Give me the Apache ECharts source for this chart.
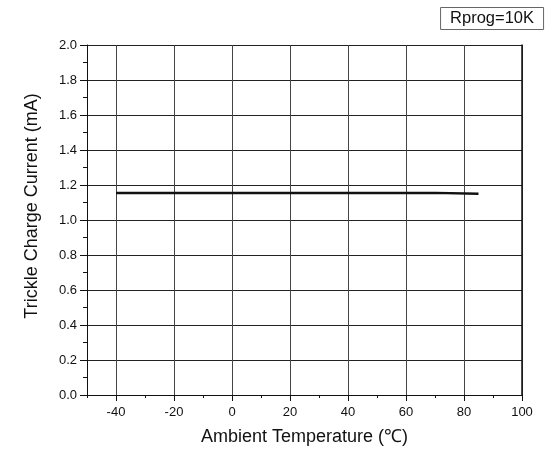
<!DOCTYPE html>
<html>
<head>
<meta charset="utf-8">
<script src="https://cdn.jsdelivr.net/npm/echarts@6/dist/echarts.min.js"></script>
<style>
html,body{margin:0;padding:0;background:#fff;}
#c{width:546px;height:452px;}
</style>
</head>
<body>
<div id="c"></div>
<script>
// Data
var temperatures = [-40, -20, 0, 20, 40, 60, 70, 85];
var trickleCurrent = [1.155, 1.155, 1.155, 1.155, 1.155, 1.155, 1.155, 1.150];
var legendText = 'Rprog=10K';
var xTitle = 'Ambient Temperature (\u2103)';
var yTitle = 'Trickle Charge Current (mA)';
var xMin = -50, xMax = 100, xMajorStart = -40, xMajorStep = 20, xMinorStep = 10;
var yMin = 0, yMax = 2.0, yStep = 0.2;

var FONT = 'Liberation Sans, Arial, sans-serif';
var seriesData = temperatures.map(function (t, i) { return [t, trickleCurrent[i]]; });

// geometry of the plotting box
var G = { left: 87, right: 24, top: 45, bottom: 57 };
var plotW = 546 - G.left - G.right;
var pxPerUnit = plotW / (xMax - xMin);
var leftMajor = G.left + (xMajorStart - xMin) * pxPerUnit;

var chart = echarts.init(document.getElementById('c'));
chart.setOption({
  backgroundColor: '#fff',
  animation: false,
  title: {
    text: legendText,
    right: 2,
    top: 7,
    padding: [3, 10, 3, 10],
    borderColor: '#666',
    borderWidth: 1,
    textStyle: { fontFamily: FONT, fontSize: 16.5, fontWeight: 'normal', color: '#111' }
  },
  grid: [
    { left: G.left, right: G.right, top: G.top, bottom: G.bottom, show: false },
    { left: leftMajor, right: G.right, top: G.top, bottom: G.bottom, show: false }
  ],
  xAxis: [{
    gridIndex: 0,
    type: 'value',
    position: 'bottom',
    min: xMin, max: xMax, interval: xMinorStep,
    name: xTitle,
    nameLocation: 'middle',
    nameGap: 33,
    nameTextStyle: { fontFamily: FONT, fontSize: 18, color: '#111' },
    axisLine: { show: true, onZero: false, lineStyle: { color: '#111', width: 1 } },
    axisTick: { show: true, inside: false, length: 3, lineStyle: { color: '#111' } },
    axisLabel: { show: false },
    splitLine: { show: false }
  }, {
    gridIndex: 1,
    type: 'value',
    position: 'bottom',
    min: xMajorStart, max: xMax, interval: xMajorStep,
    axisLine: { show: false },
    axisTick: { show: true, inside: false, length: 6, lineStyle: { color: '#111' } },
    axisLabel: { margin: 11, fontFamily: FONT, fontSize: 13, color: '#111' },
    splitLine: { show: true, lineStyle: { color: '#444', width: 1 } }
  }],
  yAxis: [{
    gridIndex: 0,
    type: 'value',
    position: 'left',
    min: yMin, max: yMax, interval: yStep,
    name: yTitle,
    nameLocation: 'middle',
    nameGap: 46,
    nameRotate: 90,
    nameTextStyle: { fontFamily: FONT, fontSize: 18, color: '#111', padding: [0, 0, 0, 28] },
    axisLine: { show: true, onZero: false, lineStyle: { color: '#111', width: 1 } },
    axisTick: { show: true, inside: false, length: 7, lineStyle: { color: '#111' } },
    minorTick: { show: true, splitNumber: 2, length: 4, lineStyle: { color: '#111' } },
    axisLabel: { margin: 10, fontFamily: FONT, fontSize: 13, color: '#111',
      formatter: function (v) { return v.toFixed(1); } },
    splitLine: { show: true, lineStyle: { color: '#222', width: 1 } }
  }, {
    gridIndex: 0,
    type: 'value',
    position: 'right',
    min: yMin, max: yMax, interval: yStep,
    axisLine: { show: true, onZero: false, lineStyle: { color: '#111', width: 1.5 } },
    axisTick: { show: false },
    axisLabel: { show: false },
    splitLine: { show: false }
  }, {
    gridIndex: 1,
    type: 'value',
    min: yMin, max: yMax, interval: yStep,
    axisLine: { show: false },
    axisTick: { show: false },
    axisLabel: { show: false },
    splitLine: { show: false }
  }],
  series: [{
    type: 'line',
    xAxisIndex: 0,
    yAxisIndex: 0,
    data: seriesData,
    showSymbol: false,
    symbol: 'none',
    z: 5,
    lineStyle: { color: '#111', width: 2.5 }
  }]
});
</script>
</body>
</html>
